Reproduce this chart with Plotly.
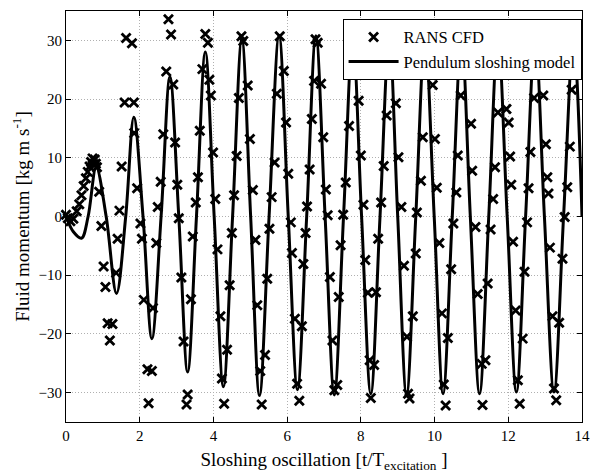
import plotly.graph_objects as go

# RANS CFD samples (time in excitation periods, momentum kg m/s)
cfd_t = [
    0.00, 0.05, 0.12, 0.20, 0.29, 0.36, 0.42, 0.48, 0.54, 0.59, 0.64, 0.68, 0.72, 0.75, 0.78, 0.81, 0.84, 0.90, 0.96,
    1.02, 1.07, 1.13, 1.19, 1.26, 1.36, 1.40, 1.45, 1.51, 1.59, 1.63, 1.79, 1.84, 1.85, 1.93, 2.02, 2.06,
    2.11, 2.21, 2.24, 2.33, 2.36, 2.45, 2.49, 2.57, 2.64, 2.72, 2.78, 2.85, 2.91, 2.96, 3.02, 3.06,
    3.13, 3.19, 3.27, 3.30, 3.39, 3.44, 3.52, 3.58, 3.63, 3.70, 3.78, 3.85, 3.89, 3.93, 3.99, 4.05,
    4.11, 4.19, 4.23, 4.29, 4.37, 4.44, 4.50, 4.56, 4.63, 4.69, 4.76, 4.81, 4.93, 4.99, 5.07,
    5.14, 5.19, 5.27, 5.31, 5.40, 5.46, 5.52, 5.58, 5.66, 5.72, 5.80, 5.91, 5.97, 6.03, 6.10,
    6.13, 6.21, 6.27, 6.33, 6.40, 6.44, 6.50, 6.54, 6.61, 6.67, 6.73, 6.77, 6.83, 6.92, 6.98, 7.05, 7.10,
    7.16, 7.23, 7.28, 7.36, 7.40, 7.45, 7.52, 7.59, 7.68, 7.94, 8.00, 8.07,
    8.12, 8.19, 8.24, 8.27, 8.36, 8.41, 8.47, 8.55, 8.62, 8.70, 8.95, 9.02, 9.10,
    9.17, 9.25, 9.28, 9.32, 9.41, 9.49, 9.52, 9.63, 9.68, 9.75, 9.95, 10.01, 10.06,
    10.13, 10.20, 10.25, 10.30, 10.36, 10.45, 10.51, 10.59, 10.63, 10.71, 10.93, 10.99, 11.02, 11.11,
    11.17, 11.28, 11.30, 11.38, 11.44, 11.52, 11.59, 11.64, 11.72, 11.95, 12.01, 12.05, 12.08,
    12.13, 12.20, 12.26, 12.31, 12.39, 12.44, 12.51, 12.55, 12.60, 12.70, 12.95, 13.02, 13.06, 13.09,
    13.13, 13.20, 13.24, 13.30, 13.38, 13.47, 13.53, 13.60, 13.67, 13.72, 13.84,
]
cfd_y = [
    0.3, -0.3, -0.8, -0.4, 0.9, 2.1, 3.6, 5.2, 6.5, 7.6, 8.5, 9.3, 9.9, 8.9, 9.7, 9.0, 8.4, 4.2, -1.6,
    -8.5, -12.0, -18.2, -21.1, -18.3, -9.6, -3.8, 1.0, 8.5, 19.4, 30.4, 29.5, 19.4, 14.2, 4.8, -1.2, -3.8,
    -14.2, -26.0, -31.8, -26.3, -15.6, -4.5, 1.6, 5.9, 14.0, 24.7, 33.6, 31.0, 22.5, 12.6, 5.4, -0.3,
    -10.4, -21.3, -32.0, -30.3, -14.1, -3.4, 2.4, 6.7, 14.6, 25.1, 31.1, 29.6, 23.3, 20.6, 10.9, 3.0,
    -5.6, -17.0, -27.6, -31.9, -22.7, -11.7, -2.8, 3.6, 10.3, 20.2, 30.7, 29.9, 22.3, 13.2, 4.5,
    -4.0, -15.1, -26.3, -32.0, -23.6, -10.6, -2.1, 3.3, 9.2, 20.9, 30.7, 24.8, 16.0, 7.3, -1.0,
    -6.2, -17.4, -28.5, -31.4, -18.7, -8.1, -2.8, 1.7, 8.0, 16.6, 23.1, 30.2, 29.6, 22.6, 13.5, 4.6, 0.2,
    -10.3, -21.1, -29.6, -28.7, -13.7, -4.9, 0.3, 5.8, 15.4, 19.7, 10.4, 2.0,
    -7.4, -13.0, -24.5, -30.9, -25.3, -12.9, -3.8, 2.4, 8.6, 17.2, 19.3, 10.1, 1.6,
    -8.4, -20.5, -30.2, -31.0, -17.0, -6.3, 0.7, 6.1, 13.5, 24.0, 22.4, 13.2, 4.9,
    -4.5, -16.5, -28.6, -32.2, -20.7, -9.0, -1.2, 4.1, 10.4, 20.6, 24.8, 15.8, 7.8, -1.8,
    -13.2, -25.1, -32.1, -24.5, -11.4, -2.2, 3.0, 8.4, 17.7, 18.3, 16.0, 10.2, 5.4,
    -4.3, -16.0, -27.9, -31.9, -20.8, -9.4, -1.0, 4.8, 11.0, 20.2, 20.6, 12.3, 6.7, 3.9,
    -5.3, -17.0, -29.3, -31.3, -18.1, -7.2, -0.1, 5.0, 11.9, 21.6, 30.0,
]

# Pendulum sloshing model: extrema and zero crossings
model_t = [0.0, 0.2, 0.42, 0.6, 0.82, 1.09, 1.37, 1.62, 1.84, 2.09, 2.33, 2.58, 2.82, 3.06,
           3.30, 3.54, 3.78, 4.02, 4.27, 4.52, 4.77, 5.01, 5.25, 5.51, 5.78, 6.03, 6.28, 6.53,
           6.78, 7.03, 7.28, 7.53, 7.78, 8.02, 8.27, 8.52, 8.77, 9.0, 9.24, 9.49, 9.74, 9.99,
           10.23, 10.48, 10.73, 10.97, 11.22, 11.47, 11.72, 11.97, 12.22, 12.47, 12.73, 12.98,
           13.24, 13.5, 13.77, 14.0]
model_y = [0.0, -2.6, -3.7, 0.0, 8.4, 0.0, -13.1, 0.0, 16.9, 0.0, -20.8, 0.0, 23.8, 0.0,
           -26.5, 0.0, 28.0, 0.0, -29.0, 0.0, 30.2, 0.0, -30.5, 0.0, 30.8, 0.0, -29.5, 0.0,
           30.8, 0.0, -30.4, 0.0, 30.5, 0.0, -30.2, 0.0, 30.5, 0.0, -30.4, 0.0, 30.5, 0.0,
           -30.2, 0.0, 30.5, 0.0, -30.2, 0.0, 30.5, 0.0, -29.9, 0.0, 30.5, 0.0,
           -29.9, 0.0, 30.3, 0.0]

x_ticks = [0, 2, 4, 6, 8, 10, 12, 14]
y_ticks = [-30, -20, -10, 0, 10, 20, 30]

FONT = "Liberation Serif"

fig = go.Figure()
fig.add_trace(go.Scatter(
    x=cfd_t, y=cfd_y, mode="markers", name="RANS CFD",
    marker=dict(symbol="x-thin", size=9, line=dict(color="black", width=2.8), color="black"),
    cliponaxis=False,
))
fig.add_trace(go.Scatter(
    x=model_t, y=model_y, mode="lines", name="Pendulum sloshing model",
    line=dict(color="black", width=3, shape="spline", smoothing=1.0),
))

axis_common = dict(
    showline=True, linecolor="black", linewidth=1, mirror="ticks",
    ticks="inside", ticklen=5, tickcolor="black", tickwidth=1,
    showgrid=True, gridcolor="#b0b0b0", griddash="1px,2px", gridwidth=1,
    zeroline=False, tickfont=dict(family=FONT, size=15, color="black"),
    ticklabeloverflow="allow",
)

fig.update_xaxes(range=[0, 14], tickvals=x_ticks,
                 title=dict(text="Sloshing oscillation [t/T<sub>excitation</sub> ]",
                            font=dict(family=FONT, size=19, color="black"), standoff=9),
                 **axis_common)
fig.update_yaxes(range=[-35, 35], tickvals=y_ticks,
                 title=dict(text="Fluid momentum [kg m s<sup>-1</sup>]",
                            font=dict(family=FONT, size=19, color="black"), standoff=3),
                 **axis_common)

fig.update_layout(
    width=595, height=475,
    margin=dict(l=66, r=5, t=11, b=53),
    paper_bgcolor="white", plot_bgcolor="white",
    font=dict(family=FONT, color="black"),
    showlegend=True,
    legend=dict(x=0.536, y=0.981, xanchor="left", yanchor="top",
                bgcolor="white", bordercolor="black", borderwidth=1,
                font=dict(family=FONT, size=16.5, color="black"),
                tracegroupgap=0, itemwidth=50),
)

fig.write_html("out.html")
